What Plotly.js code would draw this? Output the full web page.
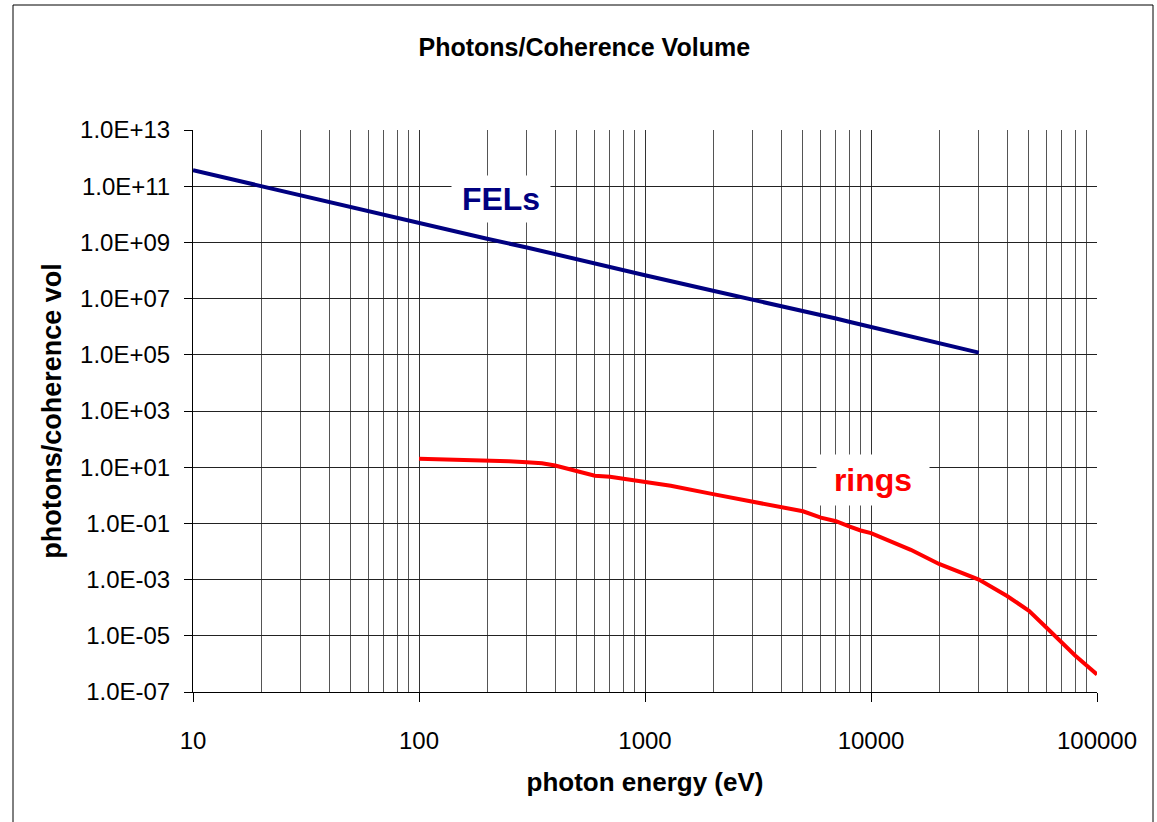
<!DOCTYPE html>
<html>
<head>
<meta charset="utf-8">
<script src="https://cdn.plot.ly/plotly-3.0.1.min.js"></script>
<style>
  html, body { margin: 0; padding: 0; background: #fff; }
  #chart { width: 1157px; height: 822px; }
</style>
</head>
<body>
<div id="chart"></div>
<script>
// Free-electron lasers: photons per coherence volume vs photon energy (eV)
const felEnergy = [10, 20, 30, 40, 50, 60, 80, 100, 200, 300, 400, 500, 600, 800,
                   1000, 2000, 3000, 4000, 5000, 6000, 7000, 8000, 9000, 10000, 20000, 30000];
const felPhotons = [3.7e11, 1.0e11, 4.6e10, 2.65e10, 1.75e10, 1.25e10, 7.2e9, 4.8e9,
                    1.35e9, 6.6e8, 3.8e8, 2.5e8, 1.78e8, 1.03e8,
                    6.8e7, 1.9e7, 9.3e6, 5.5e6, 3.65e6, 2.6e6, 1.95e6, 1.5e6, 1.2e6, 9.5e5, 2.6e5, 1.2e5];

// Storage rings: photons per coherence volume vs photon energy (eV)
const ringEnergy = [100, 150, 200, 250, 300, 350, 400, 500, 600, 700, 800, 900,
                    1000, 1300, 2000, 3000, 4000, 5000, 6000, 7000, 8000, 9000,
                    10000, 15000, 20000, 25000, 30000, 40000, 50000, 60000, 70000, 80000, 90000, 100000];
const ringPhotons = [20, 18.6, 17.4, 16.2, 15.1, 13.8, 11.5, 7.2, 5.0, 4.6, 3.9, 3.5,
                     3.0, 2.2, 1.1, 0.61, 0.40, 0.27, 0.16, 0.12, 0.079, 0.056,
                     0.045, 0.0115, 0.0036, 0.0017, 0.0010, 2.6e-4, 7.8e-5, 1.9e-5, 5.6e-6, 2.0e-6, 8.7e-7, 4.2e-7];

// Axis ticks and labels
const xTickVals = [10, 100, 1000, 10000, 100000];
const xTickText = ['10', '100', '1000', '10000', '100000'];
const yTickVals = [1e13, 1e11, 1e9, 1e7, 1e5, 1e3, 1e1, 1e-1, 1e-3, 1e-5, 1e-7];
const yTickText = ['1.0E+13', '1.0E+11', '1.0E+09', '1.0E+07', '1.0E+05', '1.0E+03',
                   '1.0E+01', '1.0E-01', '1.0E-03', '1.0E-05', '1.0E-07'];

const FONT = '"Liberation Sans", Arial, sans-serif';

const traces = [
  {
    x: felEnergy, y: felPhotons, type: 'scatter', mode: 'lines',
    line: { color: '#000080', width: 4 }, name: 'FELs', hoverinfo: 'x+y'
  },
  {
    x: ringEnergy, y: ringPhotons, type: 'scatter', mode: 'lines',
    line: { color: '#ff0000', width: 4 }, name: 'rings', hoverinfo: 'x+y'
  }
];

const layout = {
  width: 1157, height: 822,
  margin: { l: 193, r: 60, t: 130, b: 130 },
  paper_bgcolor: '#ffffff', plot_bgcolor: '#ffffff',
  showlegend: false,
  font: { family: FONT, color: '#000', size: 24 },
  title: {
    text: '<b>Photons/Coherence Volume</b>',
    font: { family: FONT, size: 25, color: '#000' },
    xref: 'container', yref: 'container', x: 0.505, y: 1 - 47 / 822,
    xanchor: 'center', yanchor: 'middle'
  },
  xaxis: {
    type: 'log', range: [1, 5],
    tickmode: 'array', tickvals: xTickVals, ticktext: xTickText,
    ticks: 'outside', ticklen: 9, tickwidth: 1, tickcolor: '#000',
    ticklabelstandoff: 18,
    showline: true, linecolor: '#000', linewidth: 1,
    showgrid: true, gridcolor: '#333', gridwidth: 1,
    minor: { dtick: 'D1', showgrid: true, gridcolor: '#555', gridwidth: 1, ticks: '' },
    tickfont: { family: FONT, size: 24, color: '#000' },
    title: {
      text: '<b>photon energy (eV)</b>',
      font: { family: FONT, size: 26, color: '#000' },
      standoff: 20
    },
    zeroline: false, automargin: false
  },
  yaxis: {
    type: 'log', range: [-7, 13],
    tickmode: 'array', tickvals: yTickVals, ticktext: yTickText,
    ticks: 'outside', ticklen: 8, tickwidth: 1, tickcolor: '#000',
    ticklabelstandoff: 9,
    showline: true, linecolor: '#000', linewidth: 1,
    showgrid: true, gridcolor: '#222', gridwidth: 1,
    tickfont: { family: FONT, size: 24, color: '#000' },
    title: {
      text: '<b>photons/coherence vol</b>',
      font: { family: FONT, size: 27, color: '#000' },
      standoff: 10
    },
    zeroline: false, automargin: false
  },
  annotations: [
    {
      text: '<b>FELs</b>', x: Math.log10(230), y: 10.53, xref: 'x', yref: 'y',
      showarrow: false, font: { family: FONT, size: 32, color: '#000080' },
      bgcolor: '#ffffff', width: 98, height: 46, borderpad: 0,
      xanchor: 'center', yanchor: 'middle'
    },
    {
      text: '<b>rings</b>', x: Math.log10(10200), y: 0.56, xref: 'x', yref: 'y',
      showarrow: false, font: { family: FONT, size: 32, color: '#ff0000' },
      bgcolor: '#ffffff', width: 112, height: 50, borderpad: 0,
      xanchor: 'center', yanchor: 'middle'
    }
  ],
  shapes: [
    {
      type: 'rect', xref: 'paper', yref: 'paper',
      x0: (13 - 193) / 904, x1: (1153 - 193) / 904,
      y0: (692 - 830) / 562, y1: (692 - 5) / 562,
      line: { color: '#000', width: 1 }, fillcolor: 'rgba(0,0,0,0)', layer: 'below'
    }
  ]
};

Plotly.newPlot('chart', traces, layout, { staticPlot: true, displayModeBar: false });
</script>
</body>
</html>
